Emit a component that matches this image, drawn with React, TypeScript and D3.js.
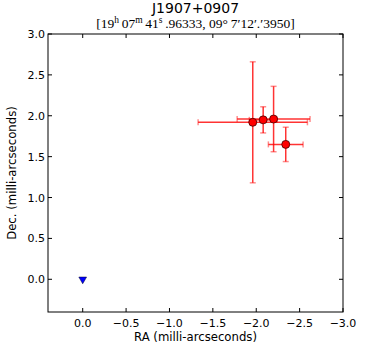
import React, { useEffect, useRef } from "react";
import * as d3 from "d3";

// measured positions (milli-arcseconds)
const raVals = [-1.96, -2.08, -2.2, -2.34];
const decVals = [1.92, 1.95, 1.96, 1.65];
const raErrs = [0.63, 0.16, 0.42, 0.2];
const decErrs = [0.74, 0.16, 0.4, 0.21];
const refPoint = [0, 0];
const xTicks = [0, -0.5, -1, -1.5, -2, -2.5, -3];
const yTicks = [0, 0.5, 1, 1.5, 2, 2.5, 3];

const App = () => {
  const ref = useRef<SVGSVGElement>(null);

  useEffect(() => {
    const width = 382;
    const height = 347;
    const m = { left: 48, top: 34, right: 343, bottom: 312 };

    const svg = d3.select(ref.current).attr("width", width).attr("height", height);
    svg.selectAll("*").remove();

    const x = d3.scaleLinear().domain([0.4, -3.0]).range([m.left, m.right]);
    const y = d3.scaleLinear().domain([-0.4, 3.0]).range([m.bottom, m.top]);
    const fmt = (v: number) => d3.format(".1f")(v).replace("-", "\u2212");

    svg.append("rect").attr("width", width).attr("height", height).attr("fill", "white");

    // title
    svg.append("text")
      .attr("x", (m.left + m.right) / 2).attr("y", 13)
      .attr("text-anchor", "middle")
      .attr("font-family", "DejaVu Sans").attr("font-size", 14)
      .text("J1907+0907");

    // subtitle with superscripts (relative dy so it stays one chunk)
    const sub = svg.append("text")
      .attr("x", (m.left + m.right) / 2).attr("y", 28)
      .attr("text-anchor", "middle")
      .attr("font-family", "Liberation Serif").attr("font-size", 13.5);
    const parts: [string, boolean][] = [
      ["[19", false], ["h", true], ["\u200907", false], ["m", true], ["\u200941", false], ["s", true],
      ["\u2009.96333, 09\u00b0\u20097\u203212\u2032.\u20323950]", false],
    ];
    let lift = 0;
    parts.forEach(([t, sup]) => {
      const target = sup ? -5 : 0;
      sub.append("tspan")
        .attr("font-size", sup ? 9.5 : 13.5)
        .attr("dy", target - lift)
        .text(t);
      lift = target;
    });

    // error bars
    const g = svg.append("g");
    const cap = 3;
    raVals.forEach((ra, i) => {
      const cx = x(ra), cy = y(decVals[i]);
      const x1 = x(ra + raErrs[i]), x2 = x(ra - raErrs[i]);
      const y1 = y(decVals[i] + decErrs[i]), y2 = y(decVals[i] - decErrs[i]);
      const eb = g.append("g").attr("stroke", "red").attr("stroke-opacity", 0.8).attr("stroke-width", 1.5);
      eb.append("line").attr("x1", x1).attr("x2", x2).attr("y1", cy).attr("y2", cy);
      eb.append("line").attr("x1", cx).attr("x2", cx).attr("y1", y1).attr("y2", y2);
      [x1, x2].forEach((xx) =>
        eb.append("line").attr("x1", xx).attr("x2", xx).attr("y1", cy - cap).attr("y2", cy + cap).attr("stroke-opacity", 0.45));
      [y1, y2].forEach((yy) =>
        eb.append("line").attr("y1", yy).attr("y2", yy).attr("x1", cx - cap).attr("x2", cx + cap).attr("stroke-opacity", 0.45));
    });
    raVals.forEach((ra, i) => {
      g.append("circle")
        .attr("cx", x(ra)).attr("cy", y(decVals[i])).attr("r", 4)
        .attr("fill", "red").attr("stroke", "#400").attr("stroke-width", 0.8);
    });

    // reference position (triangle down)
    const tri = d3.symbol().type(d3.symbolTriangle).size(26);
    g.append("path")
      .attr("d", tri())
      .attr("transform", `translate(${x(refPoint[0])},${y(refPoint[1])}) rotate(180)`)
      .attr("fill", "blue").attr("stroke", "#002").attr("stroke-width", 0.5);

    // frame
    svg.append("rect")
      .attr("x", m.left).attr("y", m.top)
      .attr("width", m.right - m.left).attr("height", m.bottom - m.top)
      .attr("fill", "none").attr("stroke", "black").attr("stroke-width", 1);

    // ticks (inward, all sides)
    const tl = 4;
    const ax = svg.append("g").attr("font-family", "DejaVu Sans").attr("font-size", 11);
    xTicks.forEach((v) => {
      const px = x(v);
      ax.append("line").attr("x1", px).attr("x2", px).attr("y1", m.bottom).attr("y2", m.bottom - tl).attr("stroke", "black");
      ax.append("line").attr("x1", px).attr("x2", px).attr("y1", m.top).attr("y2", m.top + tl).attr("stroke", "black");
      ax.append("text").attr("x", px).attr("y", m.bottom + 15).attr("text-anchor", "middle").text(fmt(v));
    });
    yTicks.forEach((v) => {
      const py = y(v);
      ax.append("line").attr("x1", m.left).attr("x2", m.left + tl).attr("y1", py).attr("y2", py).attr("stroke", "black");
      ax.append("line").attr("x1", m.right).attr("x2", m.right - tl).attr("y1", py).attr("y2", py).attr("stroke", "black");
      ax.append("text").attr("x", m.left - 3).attr("y", py + 4).attr("text-anchor", "end").text(fmt(v));
    });

    ax.append("text")
      .attr("x", (m.left + m.right) / 2).attr("y", m.bottom + 29)
      .attr("font-size", 11.7)
      .attr("text-anchor", "middle").text("RA (milli-arcseconds)");
    ax.append("text")
      .attr("transform", `translate(16,${(m.top + m.bottom) / 2}) rotate(-90)`)
      .attr("font-size", 11.7)
      .attr("text-anchor", "middle").text("Dec. (milli-arcseconds)");
  }, []);

  return <svg ref={ref} style={{ position: "absolute", left: 0, top: 0 }}></svg>;
};

export default App;
